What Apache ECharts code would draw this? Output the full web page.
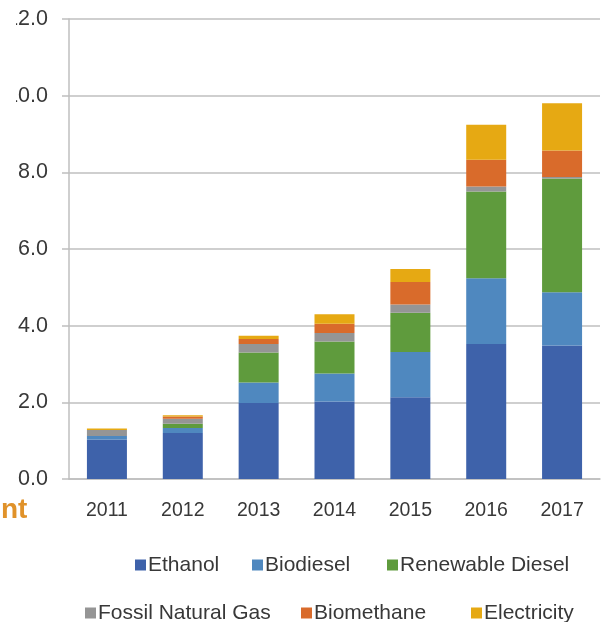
<!DOCTYPE html>
<html>
<head>
<meta charset="utf-8">
<script src="https://cdn.jsdelivr.net/npm/echarts@6/dist/echarts.min.js"></script>
<style>
html,body{margin:0;padding:0;background:#fff;}
#c{width:605px;height:622px;}
</style>
</head>
<body>
<div id="c"></div>
<script>
const years = ['2011','2012','2013','2014','2015','2016','2017'];
const ethanol         = [1.03, 1.20, 1.98, 2.02, 2.13, 3.52, 3.48];
const biodiesel       = [0.09, 0.13, 0.54, 0.73, 1.18, 1.72, 1.39];
const renewableDiesel = [0.00, 0.11, 0.78, 0.84, 1.03, 2.26, 2.97];
const fossilNatGas    = [0.16, 0.13, 0.22, 0.22, 0.21, 0.13, 0.04];
const biomethane      = [0.00, 0.06, 0.13, 0.24, 0.59, 0.70, 0.69];
const electricity     = [0.04, 0.03, 0.09, 0.25, 0.34, 0.91, 1.23];
const yTicks = [0, 2, 4, 6, 8, 10, 12];

const names  = ['Ethanol','Biodiesel','Renewable Diesel','Fossil Natural Gas','Biomethane','Electricity'];
const values = [ethanol, biodiesel, renewableDiesel, fossilNatGas, biomethane, electricity];
const colors = ['#3E62AA','#4F88BF','#5F9B3D','#959595','#D96B2B','#E6A913'];

const FONT = '"Liberation Sans", Arial, sans-serif';
const TXT = '#383838';

const legendPos = [
  {left:135, top:554},
  {left:252, top:554},
  {left:387, top:554},
  {left:85,  top:602},
  {left:301, top:602},
  {left:471, top:602}
];

const chart = echarts.init(document.getElementById('c'), null, {renderer:'canvas'});
chart.setOption({
  animation:false,
  backgroundColor:'#fff',
  color: colors,
  grid:{left:69, right:5, top:19, bottom:143, containLabel:false},
  xAxis:{
    type:'category',
    data: years,
    axisLine:{show:true, lineStyle:{color:'#BFBFBF', width:1.5}},
    axisTick:{show:false},
    axisLabel:{color:TXT, fontFamily:FONT, fontSize:19.5, margin:22}
  },
  yAxis:{
    type:'value',
    min:0, max:12, interval:2,
    axisLine:{show:true, lineStyle:{color:'#BFBFBF', width:1.5}},
    axisTick:{show:true, length:7, lineStyle:{color:'#BFBFBF', width:1.5}},
    splitLine:{show:true, lineStyle:{color:'#BFBFBF', width:1.5}},
    axisLabel:{color:TXT, fontFamily:FONT, fontSize:21.5, margin:21,
      formatter: v => yTicks.includes(v) ? v.toFixed(1) : ''}
  },
  legend: names.map((n,i)=>({
    data:[n],
    left:legendPos[i].left,
    top:legendPos[i].top,
    padding:0,
    icon:'rect',
    itemWidth:11, itemHeight:11,
    textStyle:{color:TXT, fontFamily:FONT, fontSize:21, lineHeight:22, padding:[0,0,0,-3]}
  })),
  graphic:[
    {
      type:'rect', left:0, top:0, z:100,
      shape:{width:16, height:110},
      style:{fill:'#ffffff'}
    },
    {
      type:'text', left:1, top:496,
      style:{text:'nt', fill:'#E0922A', font:'bold 28px "Liberation Sans", Arial, sans-serif'}
    }
  ],
  series: names.map((n,i)=>({
    name:n,
    type:'bar',
    stack:'total',
    barWidth:40,
    data: values[i],
    itemStyle:{color:colors[i]}
  }))
});
</script>
</body>
</html>
